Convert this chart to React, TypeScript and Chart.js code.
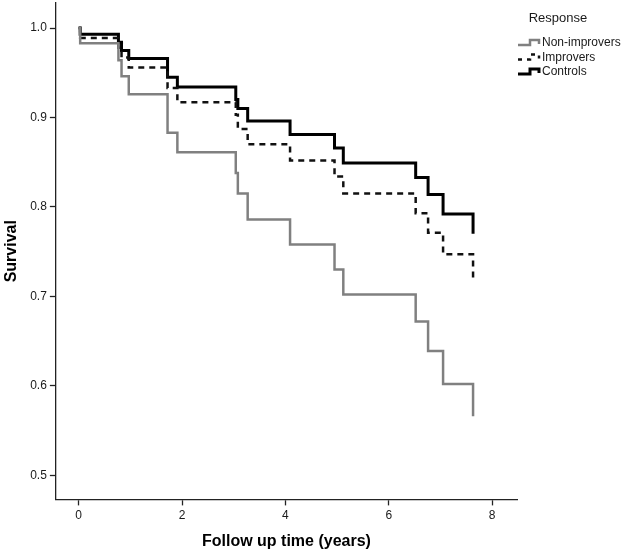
import React, { useEffect, useRef } from "react";
import { Chart, registerables } from "chart.js";

Chart.register(...registerables);

// ---- Data ----
const seriesNames = ["Non-improvers", "Improvers", "Controls"];
const followUpYears = [0, 0.03, 0.77, 0.83, 0.97, 1.72, 1.91, 3.04, 3.08, 3.27, 4.09, 4.95, 5.12, 6.52, 6.76, 7.05, 7.63];
const nonImprovers = [1.0, 0.983, 0.964, 0.946, 0.926, 0.883, 0.861, 0.838, 0.815, 0.786, 0.758, 0.73, 0.702, 0.672, 0.639, 0.602, 0.566];
const improvers = [1.0, 0.989, 0.978, 0.967, 0.956, 0.933, 0.917, 0.903, 0.887, 0.87, 0.852, 0.834, 0.815, 0.793, 0.771, 0.747, 0.719];
const controls = [1.0, 0.993, 0.984, 0.975, 0.966, 0.945, 0.934, 0.92, 0.91, 0.896, 0.881, 0.866, 0.849, 0.833, 0.814, 0.792, 0.77];
const xTickValues = [0, 2, 4, 6, 8];
const yTickValues = [0.5, 0.6, 0.7, 0.8, 0.9, 1.0];
const legendTitle = "Response";
const xTitle = "Follow up time (years)";
const yTitle = "Survival";

const FONT = "'Liberation Sans', Arial, sans-serif";

export default function App() {
  const ref = useRef<HTMLCanvasElement>(null);

  useEffect(() => {
    document.body.style.margin = "0";
    const canvas = ref.current;
    if (!canvas) return;
    const toPts = (ys: number[]) => followUpYears.map((x, i) => ({ x, y: ys[i] }));

    const legendPlugin = {
      id: "kmLegend",
      afterDraw(chart: any) {
        const ctx = chart.ctx as CanvasRenderingContext2D;
        const left = chart.chartArea.right + 1;
        ctx.save();
        ctx.fillStyle = "#1a1a1a";
        ctx.font = `13px ${FONT}`;
        ctx.textAlign = "center";
        ctx.textBaseline = "middle";
        ctx.fillText(legendTitle, left + 40, 18);
        ctx.font = `12px ${FONT}`;
        ctx.textAlign = "left";
        chart.data.datasets.forEach((ds: any, i: number) => {
          const y = 43 + i * 14.5;
          ctx.strokeStyle = ds.borderColor;
          ctx.lineWidth = ds.borderWidth;
          ctx.setLineDash(ds.borderDash ? [4, 5] : []);
          ctx.beginPath();
          ctx.moveTo(left, y + 2);
          ctx.lineTo(left + 12, y + 2);
          ctx.lineTo(left + 12, y - 3);
          ctx.lineTo(left + 21, y - 3);
          ctx.lineTo(left + 21, y + 1);
          ctx.stroke();
          ctx.setLineDash([]);
          ctx.fillStyle = "#1a1a1a";
          ctx.fillText(ds.label, left + 24, y);
        });
        ctx.restore();
      },
    };

    const chart = new Chart(canvas, {
      type: "line",
      data: {
        datasets: [
          {
            label: seriesNames[0],
            data: toPts(nonImprovers),
            borderColor: "#808080",
            borderWidth: 2.5,
            stepped: "before",
            pointRadius: 0,
            fill: false,
          },
          {
            label: seriesNames[1],
            data: toPts(improvers),
            borderColor: "#111111",
            borderWidth: 2.5,
            borderDash: [6, 5],
            stepped: "before",
            pointRadius: 0,
            fill: false,
          },
          {
            label: seriesNames[2],
            data: toPts(controls),
            borderColor: "#000000",
            borderWidth: 3,
            stepped: "before",
            pointRadius: 0,
            fill: false,
          },
        ],
      },
      options: {
        animation: false,
        responsive: true,
        maintainAspectRatio: false,
        layout: { padding: { left: 0, right: 108, top: 3, bottom: 0 } },
        plugins: {
          legend: { display: false },
          tooltip: { enabled: false },
        },
        scales: {
          x: {
            type: "linear",
            min: -0.44,
            max: 8.48,
            afterBuildTicks: (s: any) => {
              s.ticks = xTickValues.map((v) => ({ value: v }));
            },
            afterFit: (s: any) => {
              s.paddingLeft = 0;
              s.paddingRight = 0;
            },
            grid: {
              drawOnChartArea: false,
              drawTicks: true,
              tickLength: 6,
              tickColor: "#222",
              tickWidth: 1.3,
            },
            border: { display: true, color: "#222", width: 1.3 },
            ticks: {
              color: "#1a1a1a",
              font: { family: FONT, size: 12 },
              padding: 3,
              callback: (v: any) => String(v),
            },
            title: {
              display: true,
              text: xTitle,
              color: "#000",
              font: { family: FONT, size: 16, weight: "bold" },
              padding: { top: 6, bottom: 2 },
            },
          },
          y: {
            type: "linear",
            min: 0.473,
            max: 1.028,
            afterBuildTicks: (s: any) => {
              s.ticks = yTickValues.map((v) => ({ value: v }));
            },
            afterFit: (s: any) => {
              s.paddingTop = 0;
              s.paddingBottom = 0;
            },
            grid: {
              drawOnChartArea: false,
              drawTicks: true,
              tickLength: 6,
              tickColor: "#222",
              tickWidth: 1.3,
            },
            border: { display: true, color: "#222", width: 1.3 },
            ticks: {
              color: "#1a1a1a",
              font: { family: FONT, size: 12 },
              padding: 3,
              callback: (v: any) => Number(v).toFixed(1),
            },
            title: {
              display: true,
              text: yTitle,
              color: "#000",
              font: { family: FONT, size: 16, weight: "bold" },
              padding: { top: 2, bottom: 6 },
            },
          },
        },
      },
      plugins: [legendPlugin],
    });
    return () => chart.destroy();
  }, []);

  return (
    <div style={{ width: 625, height: 553, position: "relative" }}>
      <canvas ref={ref} />
    </div>
  );
}
